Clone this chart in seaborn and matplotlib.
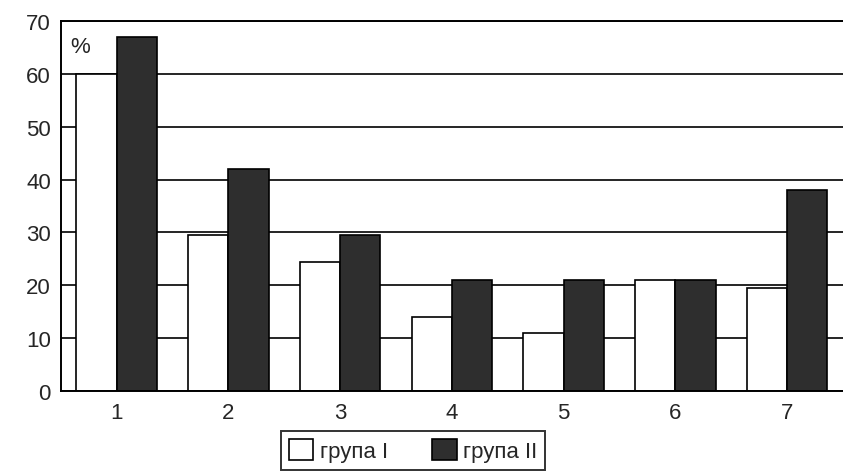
import numpy as np
import matplotlib
matplotlib.use("Agg")
import matplotlib.pyplot as plt
import pandas as pd
import seaborn as sns

# значення з діаграми
categories = ["1", "2", "3", "4", "5", "6", "7"]
grupa_1 = [60, 29.5, 24.5, 14, 11, 21, 19.5]
grupa_2 = [67, 42, 29.5, 21, 21, 21, 38]
series_names = ["група I", "група II"]

df = pd.DataFrame({
    "cat": categories * 2,
    "value": grupa_1 + grupa_2,
    "group": [series_names[0]] * 7 + [series_names[1]] * 7,
})

sns.set_style("white")
plt.rcParams["font.family"] = ["Liberation Sans", "DejaVu Sans"]

fig = plt.figure(figsize=(8.43, 4.77), dpi=100)
ax = fig.add_axes([0.072, 0.178, 0.928, 0.776])

sns.barplot(data=df, x="cat", y="value", hue="group",
            palette=["white", "#2e2e2e"], edgecolor="black", linewidth=1.2,
            width=0.72, ax=ax)

ax.set_ylim(0, 70)
ax.set_xlim(-0.5, 6.5)
ax.set_yticks(np.arange(0, 71, 10))
ax.yaxis.grid(True, color="black", linewidth=1.2)
ax.set_axisbelow(True)

# поділки між категоріями
ax.set_xticks(np.arange(-0.5, 7, 1), minor=True)
ax.tick_params(axis="x", which="minor", length=10, width=1.2, color="black", direction="out")
ax.tick_params(axis="x", which="major", length=0, labelsize=16, pad=8)
ax.tick_params(axis="y", length=10, width=1.2, color="black", direction="inout", labelsize=16, pad=2)

for s in ["left", "bottom", "top"]:
    ax.spines[s].set_color("black")
    ax.spines[s].set_linewidth(1.4)
ax.spines["right"].set_visible(False)

ax.set_xlabel("")
ax.set_ylabel("")
ax.text(0.012, 0.96, "%", transform=ax.transAxes, fontsize=16, va="top", ha="left")

handles, labels = ax.get_legend_handles_labels()
ax.get_legend().remove()
leg = fig.legend(handles, labels, loc="lower center", bbox_to_anchor=(0.49, -0.01),
                 ncol=2, frameon=True, fontsize=16, handlelength=1.1, handleheight=1.1,
                 handletextpad=0.3, columnspacing=2.0, borderpad=0.35, fancybox=False)
leg.get_frame().set_edgecolor("black")
leg.get_frame().set_linewidth(1.4)

fig.savefig("out.png", dpi=100)
